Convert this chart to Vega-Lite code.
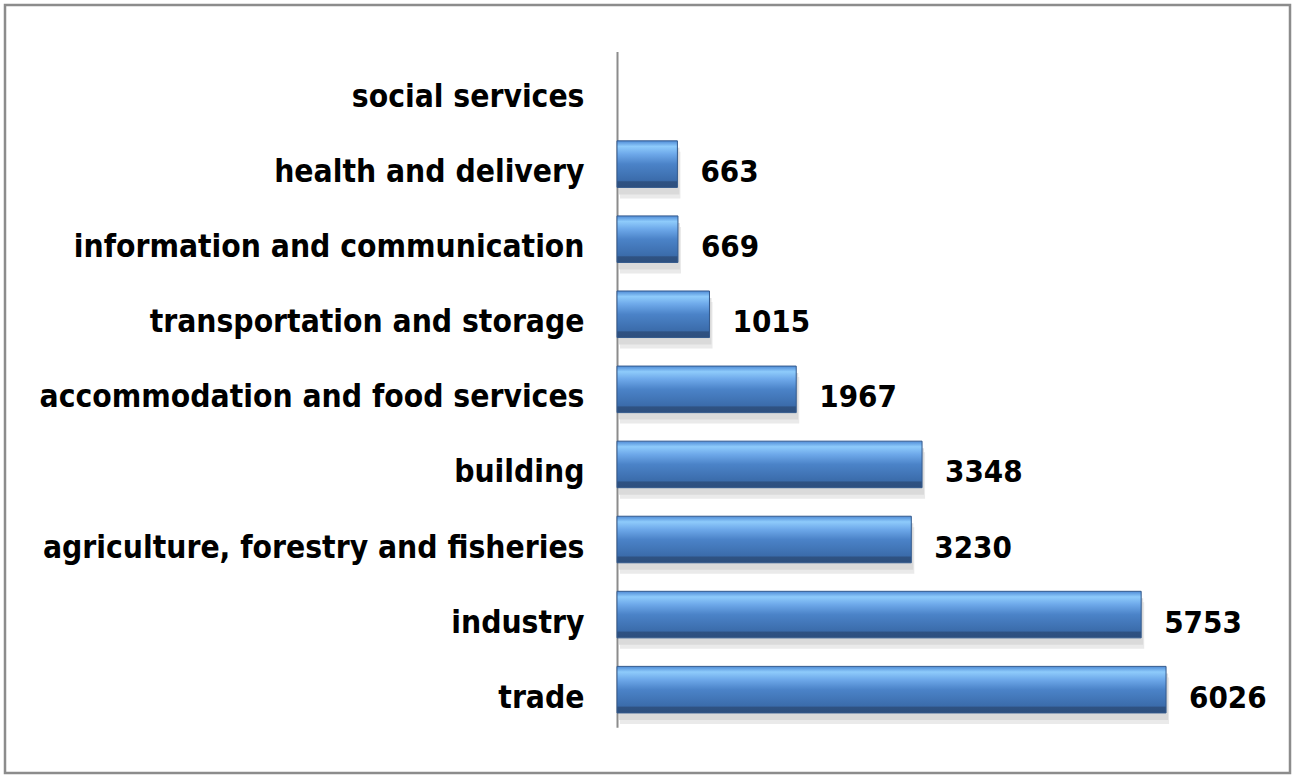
{
  "$schema": "https://vega.github.io/schema/vega-lite/v6.json",
  "autosize": "none",
  "padding": {"left": 5, "top": 5, "right": 4, "bottom": 3},
  "width": 1285,
  "height": 768,
  "background": "white",
  "config": {
    "view": {"stroke": "#8c8c8c", "strokeWidth": 2.5},
    "font": "DejaVu Sans Condensed"
  },
  "data": {
    "values": [
      {"sector": "social services", "value": null},
      {"sector": "health and delivery", "value": 663},
      {"sector": "information and communication", "value": 669},
      {"sector": "transportation  and storage", "value": 1015},
      {"sector": "accommodation  and food services", "value": 1967},
      {"sector": "building", "value": 3348},
      {"sector": "agriculture, forestry  and fisheries", "value": 3230},
      {"sector": "industry", "value": 5753},
      {"sector": "trade", "value": 6026}
    ]
  },
  "encoding": {
    "y": {
      "field": "sector",
      "type": "nominal",
      "sort": null,
      "scale": {
        "domain": ["social services", "health and delivery", "information and communication", "transportation  and storage", "accommodation  and food services", "building", "agriculture, forestry  and fisheries", "industry", "trade"],
        "range": [46.5, 722.2],
        "paddingInner": 0.38,
        "paddingOuter": 0.19
      },
      "axis": {
        "title": null,
        "offset": -612,
        "ticks": false,
        "grid": false,
        "domainColor": "#8c8c8c",
        "domainWidth": 2,
        "labelPadding": 33,
        "labelFont": "DejaVu Sans Condensed",
        "labelFontSize": 31.5,
        "labelFontWeight": "bold",
        "labelColor": "#000000",
        "labelOffset": 9,
        "labelLimit": 700
      }
    },
    "x": {
      "field": "value",
      "type": "quantitative",
      "scale": {"domain": [0, 7000], "range": [612, 1249.8], "nice": false},
      "axis": null
    }
  },
  "layer": [
    {
      "mark": {"type": "bar", "color": "#b8b8b8", "opacity": 0.45, "yOffset": 7, "xOffset": 2},
      "encoding": {}
    },
    {
      "mark": {"type": "bar", "color": "#d6d6d6", "opacity": 0.5, "yOffset": 11, "xOffset": 3},
      "encoding": {}
    },
    {
      "mark": {
        "type": "bar",
        "stroke": "#33598c",
        "strokeWidth": 1,
        "color": {
          "gradient": "linear",
          "x1": 0, "y1": 0, "x2": 0, "y2": 1,
          "stops": [
            {"offset": 0, "color": "#4f8bd6"},
            {"offset": 0.12, "color": "#8ecbfb"},
            {"offset": 0.28, "color": "#6ea9ea"},
            {"offset": 0.5, "color": "#4b83c8"},
            {"offset": 0.85, "color": "#3b6cab"},
            {"offset": 0.88, "color": "#2f5282"},
            {"offset": 1, "color": "#2d4f7e"}
          ]
        }
      },
      "encoding": {}
    },
    {
      "mark": {
        "type": "text",
        "align": "left",
        "baseline": "middle",
        "dx": 23,
        "dy": 9,
        "font": "DejaVu Sans Condensed",
        "fontSize": 31,
        "fontWeight": "bold",
        "color": "#000000"
      },
      "encoding": {"text": {"field": "value", "type": "quantitative", "format": "d"}}
    }
  ]
}
